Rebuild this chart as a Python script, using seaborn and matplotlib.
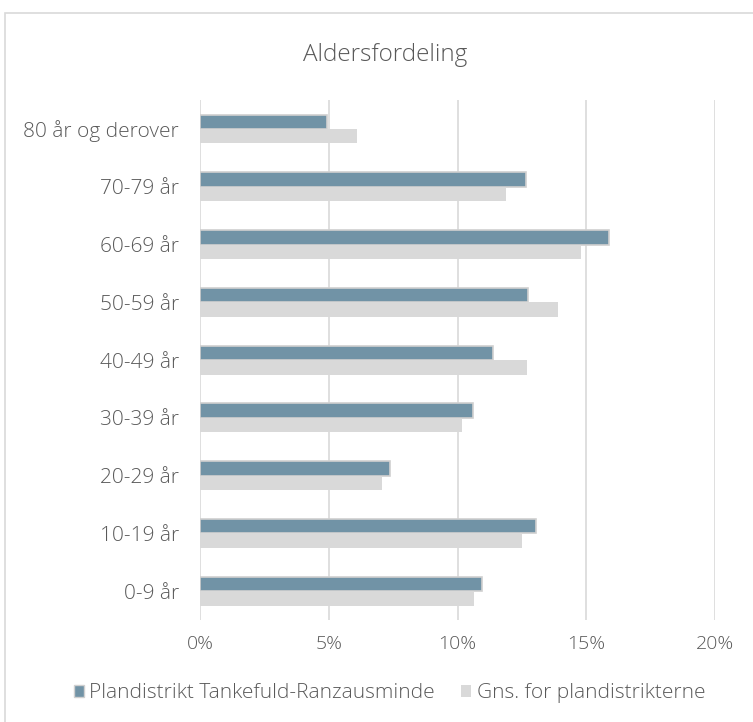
import seaborn as sns
import numpy as np
import pandas as pd
import matplotlib
matplotlib.use("Agg")
import matplotlib.pyplot as plt
from matplotlib.ticker import PercentFormatter
from matplotlib.patches import Rectangle, Patch

# alder grupper, top -> bund
grupper = ["80 år og derover", "70-79 år", "60-69 år", "50-59 år", "40-49 år",
           "30-39 år", "20-29 år", "10-19 år", "0-9 år"]
serie_navne = ["Plandistrikt Tankefuld-Ranzausminde", "Gns. for plandistrikterne"]
tankefuld = [4.93, 12.65, 15.9, 12.73, 11.38, 10.61, 7.37, 13.05, 10.96]
gns = [6.09, 11.88, 14.8, 13.91, 12.68, 10.16, 7.07, 12.52, 10.65]
farver = ["#7193A6", "#D9D9D9"]
x_ticks = [0, 5, 10, 15, 20]

df = pd.DataFrame({
    "gruppe": grupper * 2,
    "andel": tankefuld + gns,
    "serie": [serie_navne[0]] * len(grupper) + [serie_navne[1]] * len(grupper),
})

sns.set_theme(style="white")
plt.rcParams["font.family"] = ["Open Sans", "DejaVu Sans"]
txt = "#595959"

fig = plt.figure(figsize=(7.53, 7.22), dpi=100)
ax = fig.add_axes([0.2656, 0.1413, 0.684, 0.720])

sns.barplot(data=df, y="gruppe", x="andel", hue="serie", order=grupper,
            hue_order=serie_navne, palette=farver, orient="h", width=0.5,
            saturation=1, legend=False, ax=ax, zorder=3)

# lys kant rundt om de mørke søjler
for p in ax.patches[:len(grupper)]:
    p.set_edgecolor("#D0D0D0")
    p.set_linewidth(1.2)
for p in ax.patches[len(grupper):]:
    p.set_edgecolor("none")

ax.set_xlim(0, 20)
ax.set_xticks(x_ticks)
ax.xaxis.set_major_formatter(PercentFormatter(xmax=100, decimals=0))
ax.grid(axis="x", color="#D9D9D9", linewidth=1.2, zorder=0)
ax.set_axisbelow(True)
for s in ax.spines.values():
    s.set_visible(False)
ax.set_xlabel("")
ax.set_ylabel("")
ax.tick_params(axis="x", length=0, pad=11, labelsize=14, labelcolor=txt)
ax.tick_params(axis="y", length=0, pad=15, labelsize=15, labelcolor=txt)
for lab in ax.get_xticklabels() + ax.get_yticklabels():
    lab.set_fontweight("light")

fig.text(0.512, 0.924, "Aldersfordeling", ha="center", va="center",
         fontsize=17.5, color=txt, fontweight="light")

handles = [Patch(facecolor=farver[0], edgecolor="#D0D0D0"),
           Patch(facecolor=farver[1], edgecolor="none")]
leg = fig.legend(handles, serie_navne, loc="center", bbox_to_anchor=(0.517, 0.04),
                 ncol=2, frameon=False, fontsize=15, handlelength=0.5,
                 handleheight=0.5, handletextpad=0.25, columnspacing=1.25)
for t in leg.get_texts():
    t.set_color(txt)
    t.set_fontweight("light")

# ramme om diagrammet
fig.patches.append(Rectangle((5 / 753, -0.1), 1.2, 1 - 13 / 722 + 0.1,
                             transform=fig.transFigure, fill=False,
                             edgecolor="#D9D9D9", linewidth=1.2))

fig.savefig("out.png", dpi=100, facecolor="white")
